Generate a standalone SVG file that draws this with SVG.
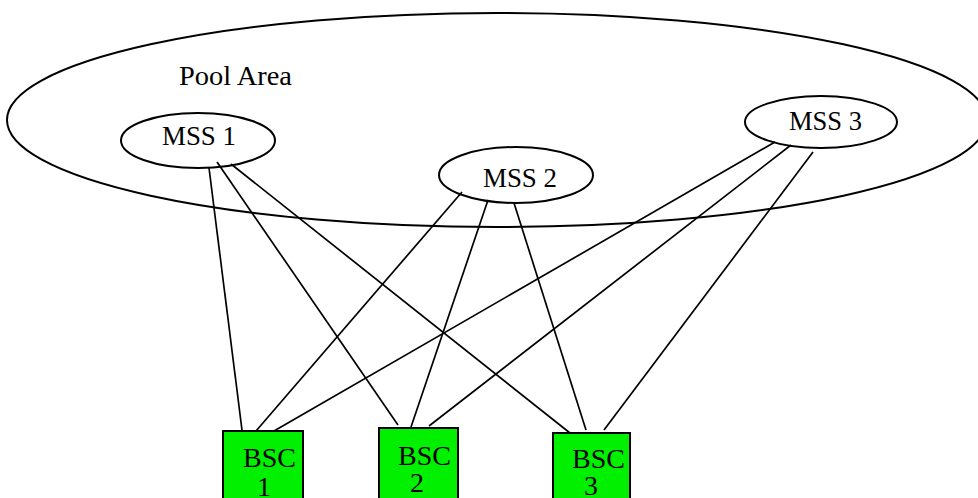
<svg xmlns="http://www.w3.org/2000/svg" width="978" height="498" viewBox="0 0 978 498">
<style>
text{font-family:'Liberation Serif','DejaVu Serif','Times New Roman',serif;font-size:28px;fill:#000}
.e{fill:none;stroke:#000;stroke-width:2}
.b{fill:#00f000;stroke:#000;stroke-width:2}
.c line{stroke:#000;stroke-width:1.7}
</style>
<rect width="978" height="498" fill="#fff"/>
<g id="pool">
<ellipse class="e" cx="497" cy="120" rx="490" ry="107"/>
<text font-family="Liberation Serif, serif" x="179" y="85" textLength="113" lengthAdjust="spacingAndGlyphs">Pool Area</text>
</g>
<g class="c" id="connectors">
<line x1="209" y1="168" x2="242" y2="430"/>
<line x1="217" y1="162" x2="398" y2="425"/>
<line x1="231" y1="164" x2="570" y2="433"/>
<line x1="462" y1="192" x2="256" y2="431"/>
<line x1="488" y1="200" x2="411" y2="427"/>
<line x1="514" y1="203" x2="586" y2="430"/>
<line x1="775" y1="142" x2="274" y2="431"/>
<line x1="791" y1="145" x2="429" y2="426"/>
<line x1="813" y1="152" x2="604" y2="430"/>
</g>
<g id="mss1">
<ellipse class="e" cx="198" cy="140.5" rx="77" ry="27.5"/>
<text font-family="Liberation Serif, serif" x="162" y="145" textLength="74" lengthAdjust="spacingAndGlyphs">MSS 1</text>
</g>
<g id="mss2">
<ellipse class="e" cx="516" cy="175" rx="77" ry="28"/>
<text font-family="Liberation Serif, serif" x="483" y="187" textLength="74" lengthAdjust="spacingAndGlyphs">MSS 2</text>
</g>
<g id="mss3">
<ellipse class="e" cx="821" cy="122" rx="76" ry="26"/>
<text font-family="Liberation Serif, serif" x="789" y="130" textLength="73" lengthAdjust="spacingAndGlyphs">MSS 3</text>
</g>
<g id="bsc1">
<rect class="b" x="223" y="431" width="80" height="80"/>
<text font-family="Liberation Serif, serif" x="243" y="467">BSC</text>
<text font-family="Liberation Serif, serif" x="257" y="496">1</text>
</g>
<g id="bsc2">
<rect class="b" x="379" y="428" width="79" height="80"/>
<text font-family="Liberation Serif, serif" x="398" y="465">BSC</text>
<text font-family="Liberation Serif, serif" x="410" y="492">2</text>
</g>
<g id="bsc3">
<rect class="b" x="553" y="433" width="77" height="80"/>
<text font-family="Liberation Serif, serif" x="572" y="468">BSC</text>
<text font-family="Liberation Serif, serif" x="584" y="495">3</text>
</g>
</svg>
